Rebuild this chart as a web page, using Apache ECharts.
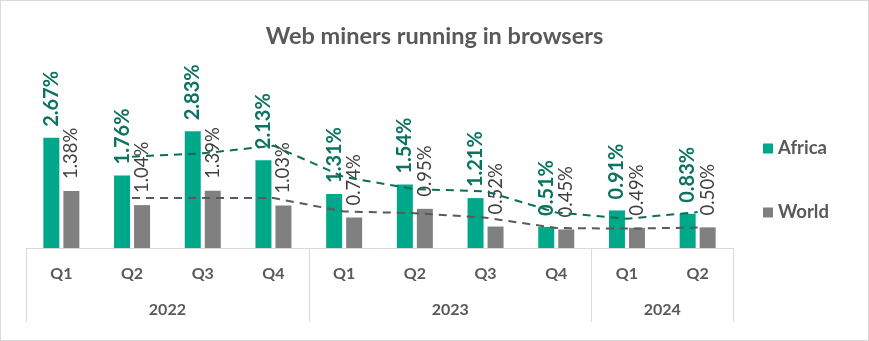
<!DOCTYPE html>
<html>
<head>
<meta charset="utf-8">
<script src="https://cdn.jsdelivr.net/npm/echarts@6/dist/echarts.min.js"></script>
<style>
html,body{margin:0;padding:0;background:#fff;}
#wrap{width:867px;height:339px;border:1px solid #d9d9d9;}
#chart{width:867px;height:339px;}
</style>
</head>
<body>
<div id="wrap"><div id="chart"></div></div>
<script>
const quarters = ['Q1','Q2','Q3','Q4','Q1','Q2','Q3','Q4','Q1','Q2'];
const years = ['2022','2023','2024'];
const yearStart = [0,4,8];
const yearSpan = [4,4,2];
const africa = [2.67,1.76,2.83,2.13,1.31,1.54,1.21,0.51,0.91,0.83];
const world = [1.38,1.04,1.39,1.03,0.74,0.95,0.52,0.45,0.49,0.50];

// 2-period moving average trendline (as in the source chart)
function movingAvg(arr){ return arr.map((v,i)=> i===0 ? null : (arr[i-1]+v)/2); }

const FONT = 'Lato';
const chart = echarts.init(document.getElementById('chart'));
const yearCenters = yearStart.map((s,i)=> s + yearSpan[i]/2);
const boundaries = yearStart.concat([quarters.length]);

chart.setOption({
  animation:false,
  title:{
    text:'Web miners running in browsers',
    left:'center', top:18,
    textStyle:{color:'#595959', fontSize:23.5, fontWeight:'bold', fontFamily:FONT}
  },
  legend:{
    orient:'vertical', left:757, top:133,
    itemWidth:10, itemHeight:10, itemGap:45,
    icon:'rect',
    data:['Africa','World'],
    textStyle:{color:'#595959', fontSize:18.5, fontWeight:'bold', fontFamily:FONT}
  },
  grid:{left:25, right:135, top:82, bottom:92},
  xAxis:[
    {
      type:'category', data:quarters,
      axisLine:{lineStyle:{color:'#d9d9d9', width:1}},
      axisTick:{show:false},
      axisLabel:{color:'#595959', fontSize:16, fontWeight:'bold', fontFamily:FONT, margin:18}
    },
    {
      type:'value', min:0, max:quarters.length, position:'bottom',
      axisLine:{show:false},
      splitLine:{show:false},
      axisTick:{show:true, customValues:boundaries, length:74, lineStyle:{color:'#d9d9d9', width:1}},
      axisLabel:{show:true, customValues:yearCenters, margin:54,
        color:'#595959', fontSize:16, fontWeight:'bold', fontFamily:FONT,
        formatter:(v)=>{ const i = yearCenters.indexOf(v); return i>=0 ? years[i] : ''; }}
    }
  ],
  yAxis:{type:'value', min:0, max:4, show:false, splitLine:{show:false}},
  series:[
    {
      name:'Africa', type:'bar', data:africa, barWidth:16, barGap:'25%',
      itemStyle:{color:'#00A88A'},
      label:{show:true, position:'top', rotate:90, align:'left', verticalAlign:'middle', distance:11,
        color:'#0B7360', fontSize:20, fontWeight:'bold', fontFamily:FONT,
        formatter:(p)=>p.value.toFixed(2)+'%'}
    },
    {
      name:'World', type:'bar', data:world, barWidth:16,
      itemStyle:{color:'#808080'},
      label:{show:true, position:'top', rotate:90, align:'left', verticalAlign:'middle', distance:12,
        color:'#404040', fontSize:18.5, fontFamily:FONT,
        formatter:(p)=>p.value.toFixed(2)+'%'}
    },
    {
      name:'Africa trend', type:'line', data:movingAvg(africa), symbol:'none', z:5,
      lineStyle:{color:'#0B6E5A', width:2, type:[8,6]}
    },
    {
      name:'World trend', type:'line', data:movingAvg(world), symbol:'none', z:5,
      lineStyle:{color:'#595959', width:2, type:[8,6]}
    }
  ]
});
</script>
</body>
</html>
